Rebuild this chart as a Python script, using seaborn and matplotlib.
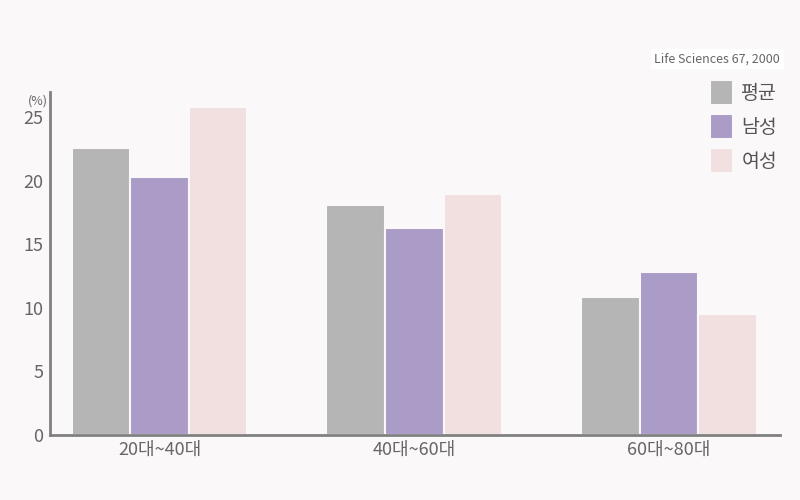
import matplotlib
matplotlib.use("Agg")
import matplotlib.pyplot as plt
import pandas as pd
import seaborn as sns

# Data (percent).
age_groups = ["20대~40대", "40대~60대", "60대~80대"]
series_names = ["평균", "남성", "여성"]
avg_values = [22.6, 18.1, 10.9]
male_values = [20.3, 16.3, 12.8]
female_values = [25.8, 19.0, 9.5]
y_ticks = [0, 5, 10, 15, 20, 25]
source_text = "Life Sciences 67, 2000"

colors = ["#b5b5b5", "#ab9bc7", "#f2e0e1"]
bg = "#fbf8f9"

rows = []
for name, vals in zip(series_names, [avg_values, male_values, female_values]):
    for grp, v in zip(age_groups, vals):
        rows.append({"group": grp, "series": name, "value": v})
df = pd.DataFrame(rows)

sns.set_theme(style="white")
plt.rcParams["font.family"] = ["Noto Sans CJK KR", "DejaVu Sans"]

fig = plt.figure(figsize=(8, 5), dpi=100, facecolor=bg)
ax = fig.add_axes([0.0625, 0.13, 0.9125, 0.686])
ax.set_facecolor(bg)

sns.barplot(
    data=df, x="group", y="value", hue="series",
    order=age_groups, hue_order=series_names,
    palette=colors, width=0.69, saturation=1,
    edgecolor=bg, linewidth=1.5, ax=ax,
)

ax.set_xlim(-0.43, 2.435)
ax.set_ylim(0, 27)
ax.set_yticks(y_ticks)
ax.set_xlabel("")
ax.set_ylabel("")
ax.tick_params(axis="both", length=0, colors="#666666", labelsize=13)
ax.tick_params(axis="x", pad=4)
ax.tick_params(axis="y", pad=5)

for side in ["top", "right"]:
    ax.spines[side].set_visible(False)
for side in ["left", "bottom"]:
    ax.spines[side].set_color("#808080")
    ax.spines[side].set_linewidth(2)

fig.text(0.035, 0.79, "(%)", fontsize=9, color="#666666")

handles, labels = ax.get_legend_handles_labels()
ax.legend(
    handles, labels, loc="upper right", bbox_to_anchor=(1.02, 1.085),
    frameon=False, fontsize=14, handlelength=1.15, handleheight=1.6,
    labelspacing=0.45, handletextpad=0.45, labelcolor="#555555",
)

fig.text(
    0.975, 0.882, source_text, ha="right", va="center", fontsize=9,
    color="#666666",
    bbox=dict(boxstyle="square,pad=0.3", facecolor="white", edgecolor="none"),
)

fig.savefig("out.png", dpi=100, facecolor=bg)
